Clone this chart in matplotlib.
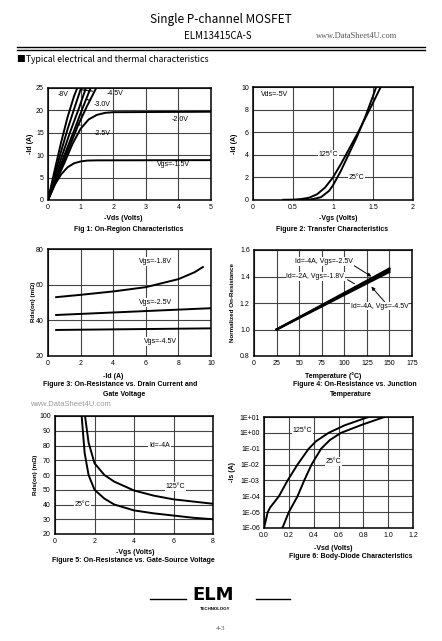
import numpy as np
import matplotlib
matplotlib.use("Agg")
import matplotlib.pyplot as plt
from matplotlib.lines import Line2D

plt.rcParams["font.family"] = ["Liberation Sans", "DejaVu Sans"]

W, H = 442, 641

# Fig 1: On-region characteristics (-Vds vs -Id)
f1_labels = ["-8V", "-4.5V", "", "-3.0V", "-2.5V", "-2.0V", "Vgs=-1.5V"]
f1_vds = [
    [0, 0.2, 0.4, 0.6, 0.8, 0.95],
    [0, 0.2, 0.4, 0.6, 0.8, 1.05],
    [0, 0.2, 0.45, 0.7, 0.95, 1.2],
    [0, 0.25, 0.52, 0.8, 1.05, 1.35],
    [0, 0.25, 0.57, 0.93, 1.2, 1.5],
    [0, 0.25, 0.5, 0.75, 1.0, 1.25, 1.5, 1.75, 2.0, 5.0],
    [0, 0.2, 0.4, 0.6, 0.8, 1.0, 1.2, 1.5, 5.0],
]
f1_id = [
    [0, 6.5, 12.8, 18.5, 23.2, 26],
    [0, 5.5, 10.8, 15.8, 20.3, 25.8],
    [0, 4.8, 10.3, 15.6, 20.5, 25.8],
    [0, 5.1, 10.3, 15.5, 20.3, 25.8],
    [0, 4.6, 10.3, 16.8, 21.0, 25.3],
    [0, 4.2, 8.2, 12.5, 15.9, 18.0, 19.0, 19.45, 19.6, 19.7],
    [0, 3.3, 5.7, 7.3, 8.2, 8.6, 8.8, 8.85, 8.9],
]

# Fig 2: transfer characteristics
f2_vgs_25 = [0.55, 0.65, 0.75, 0.85, 0.95, 1.0, 1.1, 1.2, 1.3, 1.4, 1.5, 1.55]
f2_id_25 = [0, 0.02, 0.08, 0.25, 0.8, 1.3, 2.6, 4.1, 5.6, 7.3, 9.2, 10.2]
f2_vgs_125 = [0.38, 0.5, 0.6, 0.7, 0.8, 0.9, 1.0, 1.1, 1.2, 1.3, 1.4, 1.5, 1.61]
f2_id_125 = [0.02, 0.03, 0.08, 0.2, 0.5, 1.1, 2.0, 3.2, 4.5, 5.8, 7.2, 8.6, 10.2]

# Fig 3: on-resistance vs drain current
f3_id = [0.5, 2, 4, 6, 8, 9, 9.5]
f3_r18 = [53, 54.3, 56.2, 58.6, 63.1, 67, 69.9]
f3_id_b = [0.5, 10]
f3_r25 = [43, 46.8]
f3_r45 = [34.6, 35.5]

# Fig 4: normalized on-resistance vs temperature
f4_t = [25, 150]
f4_r = [[1.0, 1.46], [1.0, 1.45], [1.0, 1.435]]

# Fig 5: on-resistance vs gate-source voltage
f5_v25 = [1.35, 1.5, 1.7, 2.0, 2.5, 3, 4, 5, 6, 7, 8]
f5_r25 = [100, 75, 60, 50, 44, 40, 36, 34, 32.5, 31, 30]
f5_v125 = [1.52, 1.7, 2.0, 2.5, 3, 4, 5, 6, 7, 8]
f5_r125 = [100, 82, 68, 60, 55.5, 49.5, 46, 43.5, 42, 40.5]

# Fig 6: body-diode characteristics
f6_v125 = [0.0, 0.03, 0.05, 0.12, 0.19, 0.27, 0.36, 0.42, 0.52, 0.65, 0.84]
f6_i125 = [1e-6, 1e-5, 2e-5, 1e-4, 1e-3, 1e-2, 1e-1, 0.3, 1, 3, 10]
f6_v25 = [0.148, 0.2, 0.27, 0.324, 0.383, 0.46, 0.53, 0.62, 0.8, 0.97]
f6_i25 = [1e-6, 1e-5, 1e-4, 1e-3, 1e-2, 1e-1, 0.35, 1, 3.5, 10]
f6_yticks = [1e-6, 1e-5, 1e-4, 1e-3, 1e-2, 1e-1, 1, 10]
f6_ylabels = ["1E-06", "1E-05", "1E-04", "1E-03", "1E-02", "1E-01", "1E+00", "1E+01"]


def fx(px):
    return px / W


def fy(py):
    return 1 - py / H


def make_ax(l, r, t, b):
    ax = fig.add_axes([fx(l), fy(b), (r - l) / W, (b - t) / H])
    ax.grid(True, color="#444444", linewidth=0.8)
    ax.set_axisbelow(True)
    for s in ax.spines.values():
        s.set_linewidth(1.1)
    ax.tick_params(length=0, labelsize=5, pad=3)
    return ax


def ftext(x, y, s, **kw):
    kw.setdefault("ha", "center")
    kw.setdefault("va", "center")
    fig.text(fx(x), fy(y), s, **kw)


LW = 1.4
box = dict(facecolor="white", edgecolor="none", pad=0.6)

fig = plt.figure(figsize=(W / 100, H / 100), dpi=100)

# header
ftext(221, 20, "Single P-channel MOSFET", fontsize=8.5, family=["Noto Sans CJK JP", "DejaVu Sans"])
ftext(218, 36, "ELM13415CA-S", fontsize=7, family=["Noto Sans CJK JP", "DejaVu Sans"])
ftext(357, 36, "www.DataSheet4U.com", fontsize=6, color="#555555", family="Liberation Serif")
fig.add_artist(Line2D([fx(17), fx(425)], [fy(47), fy(47)], color="black", lw=1.0))
fig.add_artist(Line2D([fx(17), fx(425)], [fy(50), fy(50)], color="black", lw=1.0))
ftext(17, 59, "\u25a0Typical electrical and thermal characteristics", fontsize=6.3, ha="left",
      family=["Noto Sans CJK JP", "DejaVu Sans"])

# Fig 1
ax1 = make_ax(48, 211, 88, 200)
for vx, iy in zip(f1_vds, f1_id):
    ax1.plot(vx, iy, color="black", lw=LW)
ax1.set_xlim(0, 5)
ax1.set_ylim(0, 25)
ax1.set_xticks([0, 1, 2, 3, 4, 5])
ax1.set_yticks([0, 5, 10, 15, 20, 25])
ax1.text(0.47, 23.5, f1_labels[0], fontsize=5, ha="center", va="center")
ax1.annotate(f1_labels[1], xy=(1.02, 24.6), xytext=(2.05, 23.7), fontsize=5, ha="center", va="center",
             arrowprops=dict(arrowstyle="-", lw=0.8, shrinkA=8, shrinkB=0))
ax1.annotate(f1_labels[3], xy=(1.17, 22.5), xytext=(1.65, 21.4), fontsize=5, ha="center", va="center",
             arrowprops=dict(arrowstyle="-", lw=0.8, shrinkA=8, shrinkB=0))
ax1.annotate(f1_labels[4], xy=(0.88, 17.0), xytext=(1.65, 14.9), fontsize=5, ha="center", va="center",
             arrowprops=dict(arrowstyle="-", lw=0.8, shrinkA=8, shrinkB=0))
ax1.text(4.05, 17.9, f1_labels[5], fontsize=5, ha="center", va="center")
ax1.text(3.85, 8.0, f1_labels[6], fontsize=5, ha="center", va="center")
ftext(30, 144, "-Id (A)", fontsize=5, rotation=90, fontweight="bold")
ftext(123, 218, "-Vds (Volts)", fontsize=5, fontweight="bold")
ftext(129, 229, "Fig 1: On-Region Characteristics", fontsize=5, fontweight="bold")

# Fig 2
ax2 = make_ax(253, 413, 87, 200)
ax2.plot(f2_vgs_25, f2_id_25, color="black", lw=LW)
ax2.plot(f2_vgs_125, f2_id_125, color="black", lw=LW)
ax2.set_xlim(0, 2)
ax2.set_ylim(0, 10)
ax2.set_xticks([0, 0.5, 1, 1.5, 2])
ax2.set_xticklabels(["0", "0.5", "1", "1.5", "2"])
ax2.set_yticks([0, 2, 4, 6, 8, 10])
ax2.text(0.1, 9.3, "Vds=-5V", fontsize=5, ha="left", va="center")
ax2.text(0.94, 4.0, "125\u00b0C", fontsize=5, ha="center", va="center", bbox=box)
ax2.text(1.29, 2.0, "25\u00b0C", fontsize=5, ha="center", va="center", bbox=box)
ftext(234, 144, "-Id (A)", fontsize=5, rotation=90, fontweight="bold")
ftext(338, 218, "-Vgs (Volts)", fontsize=5, fontweight="bold")
ftext(332, 229, "Figure 2: Transfer Characteristics", fontsize=5, fontweight="bold")

# Fig 3
ax3 = make_ax(48, 211, 249, 356)
ax3.plot(f3_id, f3_r18, color="black", lw=LW)
ax3.plot(f3_id_b, f3_r25, color="black", lw=LW)
ax3.plot(f3_id_b, f3_r45, color="black", lw=LW)
ax3.set_xlim(0, 10)
ax3.set_ylim(20, 80)
ax3.set_xticks([0, 2, 4, 6, 8, 10])
ax3.set_yticks([20, 40, 60, 80])
ax3.text(6.6, 73, "Vgs=-1.8V", fontsize=5, ha="center", va="center", bbox=box)
ax3.text(6.6, 50, "Vgs=-2.5V", fontsize=5, ha="center", va="center", bbox=box)
ax3.text(6.9, 28, "Vgs=-4.5V", fontsize=5, ha="center", va="center", bbox=box)
ftext(34, 302, "Rds(on) (m\u03a9)", fontsize=4.5, rotation=90, fontweight="bold")
ftext(113, 376, "-Id (A)", fontsize=5, fontweight="bold")
ftext(120, 385, "Figure 3: On-Resistance vs. Drain Current and", fontsize=5, fontweight="bold")
ftext(124, 394, "Gate Voltage", fontsize=5, fontweight="bold")
ftext(70, 404, "www.DataSheet4U.com", fontsize=5.5, color="#999999")

# Fig 4
ax4 = make_ax(254, 412, 250, 356)
for r in f4_r:
    ax4.plot(f4_t, r, color="black", lw=1.6)
ax4.set_xlim(0, 175)
ax4.set_ylim(0.8, 1.6)
ax4.set_xticks([0, 25, 50, 75, 100, 125, 150, 175])
ax4.set_yticks([0.8, 1.0, 1.2, 1.4, 1.6])
ax4.set_yticklabels(["0.8", "1.0", "1.2", "1.4", "1.6"])
arr = dict(arrowstyle="-|>", lw=0.7, color="black", mutation_scale=5, shrinkA=0, shrinkB=0)
ax4.annotate("Id=-4A, Vgs=-2.5V", xy=(130, 1.40), xytext=(78, 1.512), fontsize=5, ha="center", va="center",
             bbox=box, arrowprops=dict(arr, relpos=(1.0, 0.0)))
ax4.annotate("Id=-2A, Vgs=-1.8V", xy=(114, 1.335), xytext=(68, 1.40), fontsize=5, ha="center", va="center",
             bbox=box, arrowprops=dict(arrowstyle="-", lw=0.7, relpos=(1.0, 0.3)))
ax4.annotate("Id=-4A, Vgs=-4.5V", xy=(130, 1.323), xytext=(139, 1.177), fontsize=5, ha="center", va="center",
             bbox=box, arrowprops=dict(arr, relpos=(0.6, 1.0)))
ftext(233, 303, "Normalized On-Resistance", fontsize=4.5, rotation=90, fontweight="bold")
ftext(333, 376, "Temperature (\u00b0C)", fontsize=5, fontweight="bold")
ftext(355, 385, "Figure 4: On-Resistance vs. Junction", fontsize=5, fontweight="bold")
ftext(351, 394, "Temperature", fontsize=5, fontweight="bold")

# Fig 5
ax5 = make_ax(55, 213, 416, 534)
ax5.plot(f5_v25, f5_r25, color="black", lw=LW)
ax5.plot(f5_v125, f5_r125, color="black", lw=LW)
ax5.set_xlim(0, 8)
ax5.set_ylim(20, 100)
ax5.set_xticks([0, 2, 4, 6, 8])
ax5.set_yticks([20, 30, 40, 50, 60, 70, 80, 90, 100])
ax5.text(5.3, 80, "Id=-4A", fontsize=5, ha="center", va="center", bbox=box)
ax5.text(6.1, 52, "125\u00b0C", fontsize=5, ha="center", va="center", bbox=box)
ax5.text(1.4, 40, "25\u00b0C", fontsize=5, ha="center", va="center", bbox=box)
ftext(35, 475, "Rds(on) (m\u03a9)", fontsize=4.5, rotation=90, fontweight="bold")
ftext(135, 553, "-Vgs (Volts)", fontsize=5, fontweight="bold")
ftext(133, 561, "Figure 5: On-Resistance vs. Gate-Source Voltage", fontsize=5, fontweight="bold")

# Fig 6
ax6 = make_ax(264, 413, 417, 528)
ax6.set_yscale("log")
ax6.plot(f6_v125, f6_i125, color="black", lw=LW)
ax6.plot(f6_v25, f6_i25, color="black", lw=LW)
ax6.set_xlim(0, 1.2)
ax6.set_ylim(1e-6, 10)
ax6.set_xticks([0, 0.2, 0.4, 0.6, 0.8, 1.0, 1.2])
ax6.set_xticklabels(["0.0", "0.2", "0.4", "0.6", "0.8", "1.0", "1.2"])
ax6.set_yticks(f6_yticks)
ax6.set_yticklabels(f6_ylabels)
ax6.minorticks_off()
ax6.text(0.31, 1.4, "125\u00b0C", fontsize=5, ha="center", va="center", bbox=box)
ax6.text(0.56, 0.015, "25\u00b0C", fontsize=5, ha="center", va="center", bbox=box)
ftext(233, 472, "-Is (A)", fontsize=5, rotation=90, fontweight="bold")
ftext(333, 549, "-Vsd (Volts)", fontsize=5, fontweight="bold")
ftext(351, 557, "Figure 6: Body-Diode Characteristics", fontsize=5, fontweight="bold")

# footer
fig.add_artist(Line2D([fx(150), fx(186)], [fy(599), fy(599)], color="black", lw=1.0))
fig.add_artist(Line2D([fx(256), fx(290)], [fy(599), fy(599)], color="black", lw=1.0))
ftext(213, 595, "ELM", fontsize=13, fontweight="bold", family="DejaVu Sans")
ftext(215, 609, "TECHNOLOGY", fontsize=3.2, fontweight="bold")
ftext(221, 628, "4-3", fontsize=5, color="#555555", family="Liberation Serif")

fig.savefig("out.png", dpi=100)
